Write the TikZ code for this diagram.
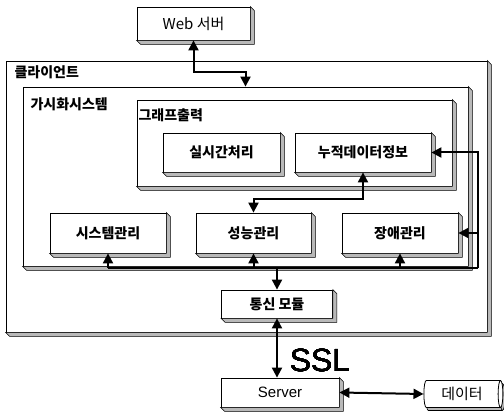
\documentclass[tikz,border=0pt]{standalone}
\usepackage{fontspec}
\setmainfont{Noto Sans CJK KR}
\newfontfamily\sslfont{Liberation Sans}
\usetikzlibrary{shadows,shapes.geometric,arrows.meta,calc}

\def\depth{4}
\def\extrude#1{\filldraw[fill=gray!55, line width=0.6pt]
  (#1.north east) -- ++(\depth,\depth) -- ($(#1.south east)+(\depth,\depth)$)
  -- ($(#1.south west)+(\depth,\depth)$) -- (#1.south west) -- (#1.south east) -- cycle;}

\begin{document}
\begin{tikzpicture}[x=1pt, y=-1pt, font=\fontsize{14}{14}\selectfont,
  box/.style={draw, line width=0.8pt, fill=white, inner sep=0pt},
  tip/.style={line width=2pt, -{Triangle[length=10pt,width=10pt]}},
  twoway/.style={line width=2pt, {Triangle[length=10pt,width=10pt]}-{Triangle[length=10pt,width=10pt]}},
  bus/.style={line width=2pt}]
\useasboundingbox (0,0) rectangle (504,419);
% Containers
\node[box, minimum width=481pt, minimum height=271pt] (client) at (246.5,196.5) {};
\node[anchor=north west] (clientlbl) at (11,62) {\bfseries 클라이언트};
\node[box, minimum width=445pt, minimum height=179pt] (vis) at (245.5,176.5) {};
\node[anchor=north west] (vislbl) at (27,94) {\bfseries 가시화시스템};
\node[box, minimum width=315pt, minimum height=86pt] (graph) at (294.5,143) {};
\node[anchor=north west] (graphlbl) at (135,105) {\bfseries 그래프출력};
% Boxes
\node[box, minimum width=113pt, minimum height=33pt] (web) at (193.5,23.5) {\fontsize{15}{15}\selectfont Web 서버};
\node[box, minimum width=117pt, minimum height=39pt] (rt) at (221.5,152.5) {\bfseries 실시간처리};
\node[box, minimum width=136pt, minimum height=39pt] (accum) at (363,152.5) {\bfseries 누적데이터정보};
\node[box, minimum width=116pt, minimum height=40pt] (sys) at (108,233) {\bfseries 시스템관리};
\node[box, minimum width=115pt, minimum height=40pt] (perf) at (253.5,233) {\bfseries 성능관리};
\node[box, minimum width=116pt, minimum height=40pt] (fault) at (400,233) {\bfseries 장애관리};
\node[box, minimum width=111pt, minimum height=28pt] (comm) at (277,304) {\bfseries 통신 모듈};
\node[box, minimum width=118pt, minimum height=29pt] (server) at (280,392.5) {\sslfont\fontsize{15}{15}\selectfont Server};
\node[cylinder, draw, line width=0.8pt, fill=white, shape aspect=0.35,
  minimum height=79pt, minimum width=27pt, inner sep=0pt,
  copy shadow={shadow xshift=2pt, shadow yshift=-3pt, fill=gray!55, draw=black, line width=0.6pt}]
  (data) at (462,394) {\fontsize{15}{15}\selectfont 데이터};
% 3D sides
\foreach \n in {client,vis,graph,web,rt,accum,sys,perf,fault,comm,server}
  \extrude{\n}
\node (ssl) at (320,360) {\sslfont\fontsize{32}{32}\selectfont SSL};
% Connectors
\coordinate (busR) at (478,268);
\coordinate (busL) at (108,268);
\draw[twoway] (web.south) -- ++(0,32) -| (vis.north);
\draw[tip] (busR) |- (accum.east);
\draw[bus] (busR) -- (busL);
\draw[tip] (busL) -- (sys.south);
\draw[tip] (perf.south |- busL) -- (perf.south);
\draw[tip] (fault.south |- busL) -- (fault.south);
\draw[tip] (fault.east -| busR) -- (fault.east);
\draw[tip] (comm.north |- busL) -- (comm.north);
\draw[twoway] (accum.south) -- ++(0,27) -| (perf.north);
\draw[twoway] (comm.south) -- (comm.south |- server.north);
\draw[twoway] (server.east) -- (data.west);
\end{tikzpicture}
\end{document}
